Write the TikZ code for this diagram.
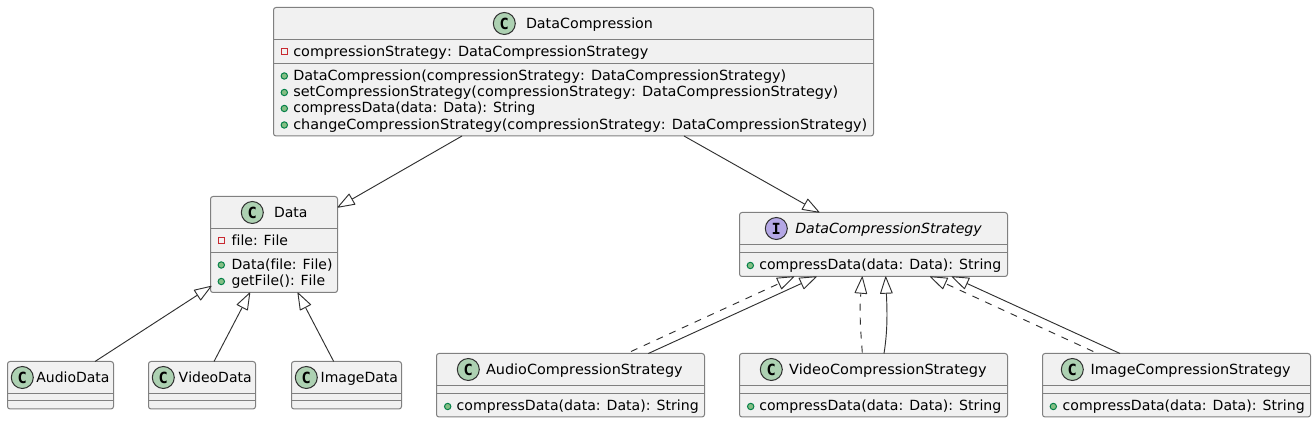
\documentclass[tikz,border=0pt]{standalone}
\usepackage{graphicx}
\usepackage{fontspec}
\setmainfont[Kerning=Off,Ligatures=NoCommon]{DejaVu Sans}
\newfontfamily\spotfont{DejaVu Sans Mono}
\usetikzlibrary{arrows.meta,calc}
\definecolor{boxfill}{HTML}{F1F1F1}
\definecolor{boxline}{HTML}{808080}
\definecolor{inkline}{HTML}{303030}
\definecolor{spotc}{HTML}{ADD1B2}
\definecolor{spoti}{HTML}{B4A7E5}
\definecolor{privline}{HTML}{C82930}
\definecolor{pubfill}{HTML}{84BE84}
\definecolor{publine}{HTML}{038048}
\tikzset{
  x=0.75pt,y=-0.75pt,
  umlbox/.style={draw=boxline,fill=boxfill,line width=0.75pt,rounded corners=1.9pt,inner sep=0pt,outer sep=0pt},
  sepline/.style={draw=boxline,line width=0.75pt},
  spot/.style={circle,draw=inkline,line width=0.75pt,minimum size=16.5pt,inner sep=0pt,font=\spotfont\fontsize{11.5pt}{12pt}\selectfont\bfseries,text=black},
  label/.style={anchor=base west,inner sep=0pt,outer sep=0pt,font=\fontsize{10.5pt}{12pt}\selectfont,text=black},
  ilabel/.style={label,font=\fontsize{10.5pt}{12pt}\selectfont\itshape},
  privicon/.style={rectangle,draw=privline,line width=0.75pt,minimum size=4.5pt,inner sep=0pt},
  pubicon/.style={circle,draw=publine,fill=pubfill,line width=0.75pt,minimum size=4.8pt,inner sep=0pt},
  extends/.style={draw=inkline,line width=0.7pt,-{Triangle[length=13.6pt,width=9.6pt,fill=white,round]}},
  realizes/.style={extends,dash pattern=on 5.25pt off 5.25pt},
}
% fit text to a width given in reference pixels
\newcommand{\fitw}[2]{\resizebox{#1\dimexpr 0.75pt\relax}{\height}{#2}}
% name, left, top, right, bottom, sep1, sep2
\newcommand{\umlbox}[7]{%
  \node[umlbox,minimum width={(#4-#2)*0.75pt},minimum height={(#5-#3)*0.75pt}] (#1) at ({(#2+#4)/2},{(#3+#5)/2}) {};
  \draw[sepline] (#2,#6) -- (#4,#6);
  \draw[sepline] (#2,#7) -- (#4,#7);
}
\newcommand{\pubrow}[5]{% name, icon x, text x, baseline, text
  \node[pubicon] (#1i) at (#2,#4-4.5) {};
  \node[label] (#1t) at (#3,#4) {#5};
}
\newcommand{\privrow}[5]{%
  \node[privicon] (#1i) at (#2,#4-4.5) {};
  \node[label] (#1t) at (#3,#4) {#5};
}
\begin{document}
\begin{tikzpicture}
\useasboundingbox[fill=white] (0,0) rectangle (1316,423);

% DataCompression
\umlbox{dc}{273.5}{7.5}{873.5}{136}{39.5}{63.3}
\node[spot,fill=spotc] (dcs0) at (504.3,23.5) {C};
\node[label] (dcn) at (526,28.5) {\fitw{127}{DataCompression}};
\privrow{dca}{284.3}{293.3}{56.5}{\fitw{355}{compressionStrategy: DataCompressionStrategy}}
\pubrow{dcb}{284.3}{293.3}{80.5}{\fitw{493}{DataCompression(compressionStrategy: DataCompressionStrategy)}}
\pubrow{dcc}{284.3}{293.3}{97}{\fitw{545}{setCompressionStrategy(compressionStrategy: DataCompressionStrategy)}}
\pubrow{dcd}{284.3}{293.3}{113}{\fitw{242}{compressData(data: Data): String}}
\pubrow{dce}{284.3}{293.3}{129.5}{\fitw{574}{changeCompressionStrategy(compressionStrategy: DataCompressionStrategy)}}

% Data
\umlbox{data}{210.5}{196.5}{337.5}{292.5}{228.5}{252.5}
\node[spot,fill=spotc] (datas) at (252.3,212.5) {C};
\node[label] (datan) at (274,217.5) {Data};
\privrow{dataa}{221.3}{231.7}{245.5}{file: File}
\pubrow{datab}{221.3}{231.7}{269.5}{Data(file: File)}
\pubrow{datac}{221.3}{231.7}{286}{getFile(): File}

% AudioData, VideoData, ImageData
\umlbox{ad}{7.5}{361.5}{113.5}{409}{393.5}{401}
\node[spot,fill=spotc] (ads) at (22.3,377.5) {C};
\node[label] (adn) at (36.3,382.5) {AudioData};
\umlbox{vd}{148.5}{361.5}{255.5}{409}{393.5}{401}
\node[spot,fill=spotc] (vds) at (163.3,377.5) {C};
\node[label] (vdn) at (178.7,382.5) {VideoData};
\umlbox{id}{291.5}{361.5}{401.5}{409}{393.5}{401}
\node[spot,fill=spotc] (ids) at (306.3,377.5) {C};
\node[label] (idn) at (320.7,382.5) {ImageData};

% DataCompressionStrategy
\umlbox{dcs}{739.5}{212.5}{1007.5}{276.5}{244.5}{252.5}
\node[spot,fill=spoti] (dcss) at (776.3,228.5) {I};
\node[ilabel] (dcsn) at (795.3,233.5) {\fitw{186.5}{DataCompressionStrategy}};
\pubrow{dcsa}{750.3}{759.3}{270}{\fitw{242}{compressData(data: Data): String}}

% Concrete strategies
\umlbox{acs}{436.5}{353.5}{704.5}{417}{385.5}{393.5}
\node[spot,fill=spotc] (acss) at (468.3,369.5) {C};
\node[label] (acsn) at (486,374.5) {\fitw{196.7}{AudioCompressionStrategy}};
\pubrow{acsa}{447.7}{456.7}{411}{\fitw{242}{compressData(data: Data): String}}

\umlbox{vcs}{739.5}{353.5}{1007.5}{417}{385.5}{393.5}
\node[spot,fill=spotc] (vcss) at (771.3,369.5) {C};
\node[label] (vcsn) at (789,374.5) {\fitw{197.7}{VideoCompressionStrategy}};
\pubrow{vcsa}{750.7}{759.3}{411}{\fitw{242}{compressData(data: Data): String}}

\umlbox{ics}{1042.5}{353.5}{1310.5}{417}{385.5}{393.5}
\node[spot,fill=spotc] (icss) at (1072.3,369.5) {C};
\node[label] (icsn) at (1090.7,374.5) {\fitw{200}{ImageCompressionStrategy}};
\pubrow{icsa}{1053.3}{1062.7}{411}{\fitw{242}{compressData(data: Data): String}}

% Connectors
\draw[extends] ($(dc.south west)+(188.5,0)$) -- ($(data.north east)+(0,11)$);
\draw[extends] ($(dc.south west)+(410.5,0)$) -- ($(dcs.north west)+(80,0)$);
\draw[extends] ($(ad.north west)+(87.5,0)$) -- ($(data.south west)+(1,-6.5)$);
\draw[extends] ($(vd.north west)+(65.5,0)$) -- ($(data.south west)+(39.5,0)$);
\draw[extends] ($(id.north west)+(42.2,0)$) -- ($(data.south west)+(87.2,0)$);
\draw[realizes] ($(acs.north west)+(194.5,-2)$) -- ($(dcs.south west)+(54.8,0)$);
\draw[extends] ($(acs.north west)+(211.8,0)$) -- ($(dcs.south west)+(77.2,0)$);
\draw[realizes] ($(vcs.north west)+(122.8,-1)$) .. controls ($(vcs.north west)+(120.5,-30)$) and ($(vcs.north west)+(120,-45)$) .. ($(dcs.south west)+(122.8,0)$);
\draw[extends] ($(vcs.north west)+(144.5,0)$) .. controls ($(vcs.north west)+(148.5,-25)$) and ($(vcs.north west)+(147.5,-45)$) .. ($(dcs.south west)+(146.2,0)$);
\draw[realizes] ($(ics.north west)+(50.8,-2)$) -- ($(dcs.south west)+(190.5,0)$);
\draw[extends] ($(ics.north west)+(77.5,0)$) -- ($(dcs.south west)+(212.2,0)$);
\end{tikzpicture}
\end{document}
